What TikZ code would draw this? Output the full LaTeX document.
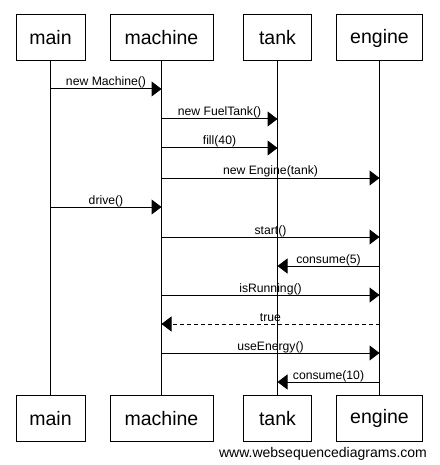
\documentclass[tikz,border=0pt]{standalone}
\usepackage{fontspec}
\setmainfont{Liberation Sans}
\usetikzlibrary{arrows.meta}
\begin{document}
\begin{tikzpicture}[x=1pt,y=-1pt,
  actor/.style={draw, line width=1pt, minimum height=46pt, inner sep=0pt,
    font=\fontsize{19.5}{22}\selectfont},
  life/.style={line width=1pt},
  msg/.style={line width=1pt, -{Triangle[length=10pt,width=15pt]}},
  reply/.style={msg, dash pattern=on 4pt off 3pt},
  lbl/.style={midway, anchor=base, yshift=3pt, inner sep=0pt,
    font=\fontsize{12.2}{14}\selectfont}]
\useasboundingbox (0,0) rectangle (439,465);

% participants, top row
\node[actor, minimum width=69pt]  (mainT)    at (50.5,38)  {main};
\node[actor, minimum width=103pt] (machineT) at (161.5,38) {machine};
\node[actor, minimum width=68pt]  (tankT)    at (277.5,38) {tank};
\node[actor, minimum width=86pt]  (engineT)  at (379.5,38) {engine};

% participants, bottom row
\node[actor, minimum width=69pt]  (mainB)    at (50.5,418.5)  {main};
\node[actor, minimum width=103pt] (machineB) at (161.5,418.5) {machine};
\node[actor, minimum width=68pt]  (tankB)    at (277.5,418.5) {tank};
\node[actor, minimum width=86pt]  (engineB)  at (379.5,418.5) {engine};

% lifelines
\draw[life] (mainT.south) -- (mainB.north);
\draw[life] (machineT.south) -- (machineB.north);
\draw[life] (tankT.south) -- (tankB.north);
\draw[life] (engineT.south) -- (engineB.north);

% messages
\draw[msg] (mainT.south |- 0,89) -- (machineT.south |- 0,89) node[lbl] {new Machine()};
\draw[msg] (machineT.south |- 0,119) -- (tankT.south |- 0,119) node[lbl] {new FuelTank()};
\draw[msg] (machineT.south |- 0,148) -- (tankT.south |- 0,148) node[lbl] {fill(40)};
\draw[msg] (machineT.south |- 0,178) -- (engineT.south |- 0,178) node[lbl] {new Engine(tank)};
\draw[msg] (mainT.south |- 0,207) -- (machineT.south |- 0,207) node[lbl] {drive()};
\draw[msg] (machineT.south |- 0,237) -- (engineT.south |- 0,237) node[lbl] {start()};
\draw[msg] (engineT.south |- 0,266) -- (tankT.south |- 0,266) node[lbl] {consume(5)};
\draw[msg] (machineT.south |- 0,295) -- (engineT.south |- 0,295) node[lbl] {isRunning()};
\draw[reply] (engineT.south |- 0,324) -- (machineT.south |- 0,324) node[lbl] {true};
\draw[msg] (machineT.south |- 0,353) -- (engineT.south |- 0,353) node[lbl] {useEnergy()};
\draw[msg] (engineT.south |- 0,382) -- (tankT.south |- 0,382) node[lbl] {consume(10)};

% credit line
\node[anchor=base, inner sep=0pt, font=\fontsize{14}{16}\selectfont] (credit)
  at (323,457) {www.websequencediagrams.com};
\end{tikzpicture}
\end{document}
